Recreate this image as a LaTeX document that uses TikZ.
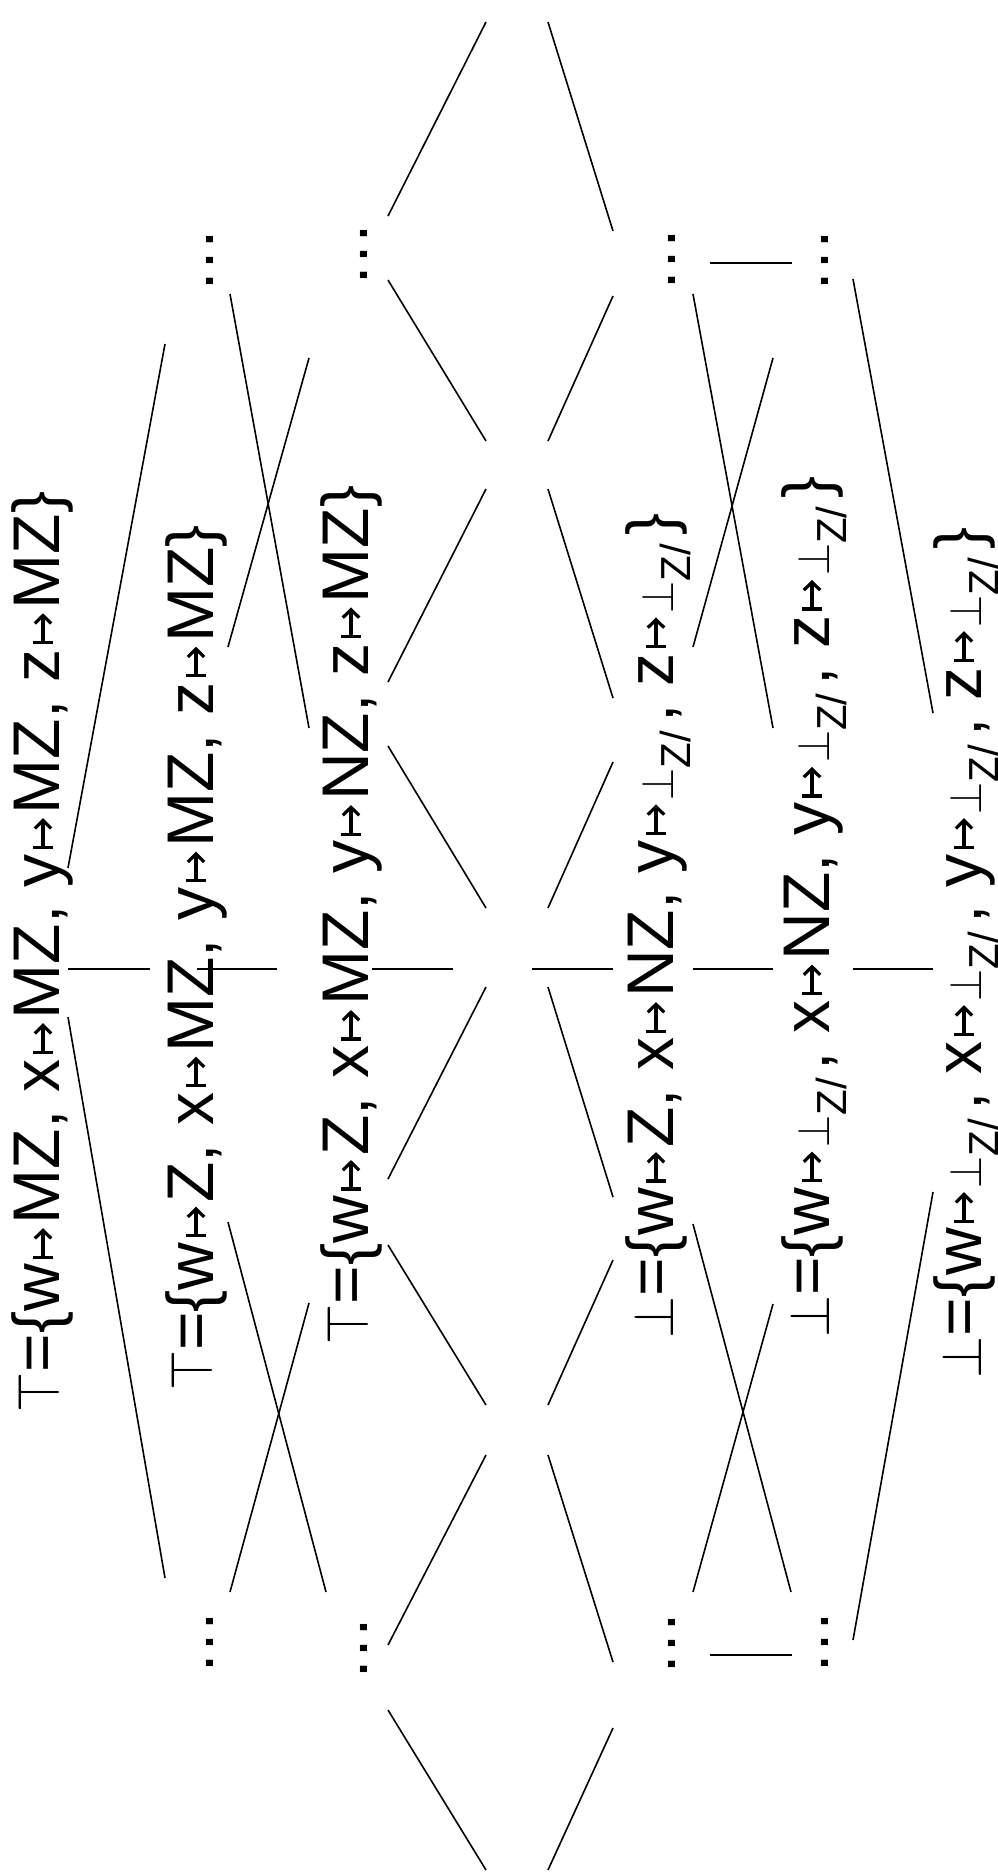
\documentclass[tikz,border=0pt]{standalone}
\usepackage{fontspec}
\usepackage{graphicx}
\setmainfont{Liberation Sans}
\newcommand{\mt}{\kern2.6pt\tikz[baseline=0pt,x=1pt,y=1pt,line width=1.6pt]{\useasboundingbox (-0.8,0) rectangle (14,14); \draw (0,3.5)--(0,13.5); \draw (0,8.5)--(13.4,8.5); \draw[line join=miter] (9.4,12.6)--(13.4,8.5)--(9.4,4.4);}\kern2.6pt}
\newcommand{\tp}{\resizebox{20pt}{21pt}{$\top$}}
\newcommand{\bt}{\resizebox{21pt}{20pt}{$\bot$}}
\newcommand{\bz}{\resizebox{16pt}{16pt}{$\bot$}\raisebox{-8.5pt}{\fontsize{21pt}{21pt}\selectfont Z/}\kern4pt}
\begin{document}
\begin{tikzpicture}[x=0.5pt,y=-0.5pt,
  lbl/.style={rotate=90,anchor=base,inner sep=0pt,font=\fontsize{33pt}{33pt}\selectfont},
  dts/.style={rotate=90,anchor=base,inner sep=0pt,font=\fontsize{33pt}{33pt}\selectfont},
  edge/.style={line width=0.8pt,black}]
\useasboundingbox (0,0) rectangle (997,1876);
% element labels
\node[lbl] (n1) at (60,952) {\tp=\{w\mt MZ, x\mt MZ, y\mt MZ, z\mt MZ\}};
\node[lbl] (n2) at (213,958) {\tp=\{w\mt Z, x\mt MZ, y\mt MZ, z\mt MZ\}};
\node[lbl] (n3) at (368,915) {\tp=\{w\mt Z, x\mt MZ, y\mt NZ, z\mt MZ\}};
\node[lbl] (n4) at (673,926) {\bt=\{w\mt Z, x\mt NZ, y\mt\bz, z\mt\bz\}};
\node[lbl] (n5) at (829,907) {\bt=\{w\mt\bz, x\mt NZ, y\mt\bz, z\mt\bz\}};
\node[lbl] (n6) at (981,953) {\bt=\{w\mt\bz, x\mt\bz, y\mt\bz, z\mt\bz\}};
% ellipses
\node[dts] (d1) at (213,260) {…};
\node[dts] (d2) at (367,254) {…};
\node[dts] (d3) at (675,259) {…};
\node[dts] (d4) at (828,260) {…};
\node[dts] (e1) at (213,1642) {…};
\node[dts] (e2) at (367,1648) {…};
\node[dts] (e3) at (675,1643) {…};
\node[dts] (e4) at (828,1642) {…};
% connectors
\foreach \ax/\ay/\bx/\by [count=\i] in {
  388/216/486/22, 548/22/613/231, 388/280/486/441, 548/441/613/296,
  388/682/486/489, 548/489/613/698, 388/746/486/908, 548/908/613/762,
  372/969/453/969, 532/969/613/969,
  388/1179/486/987, 548/987/613/1197, 388/1245/486/1405, 548/1405/613/1260,
  388/1645/486/1455, 548/1455/613/1662, 388/1710/486/1870, 548/1870/613/1728,
  230/294/309/728, 165/344/68/868, 309/358/228/647,
  693/294/773/728, 773/358/693/647, 853/279/933/713,
  68/1017/165/1578, 228/1222/326/1592, 309/1303/230/1592,
  693/1224/791/1592, 773/1304/693/1592, 933/1192/853/1640,
  68/969/150/969, 197/969/277/969, 693/969/773/969, 853/969/933/969,
  710/263/792/263, 710/1655/792/1655}
{
  \coordinate (p\i) at (\ax,\ay);
  \coordinate (q\i) at (\bx,\by);
  \draw[edge] (p\i) -- (q\i);
}
\end{tikzpicture}
\end{document}
